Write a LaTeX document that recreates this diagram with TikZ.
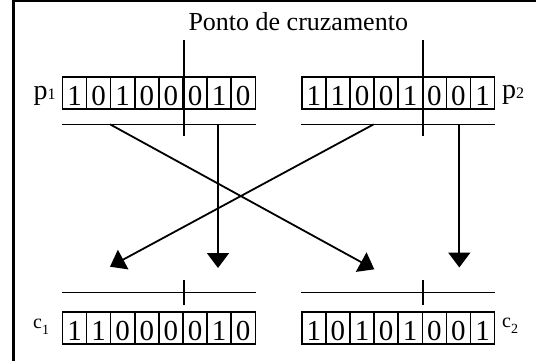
\documentclass[tikz,border=0pt]{standalone}
\usepackage{fontspec}
\setmainfont{Liberation Serif}
\usetikzlibrary{arrows.meta}
\begin{document}
\begin{tikzpicture}[x=1pt,y=-1pt,
  cell/.style={draw,line width=1.5pt,minimum width=24.1pt,minimum height=32pt,inner sep=0pt,
    text height=24.6pt,text depth=0pt,font=\fontsize{29}{29}\selectfont,anchor=north west},
  bar/.style={line width=1.6pt},
  lbl/.style={anchor=base west,inner sep=0pt},
  arr/.style={line width=1.8pt,-{Triangle[length=15pt,width=22pt]}}]
\useasboundingbox (0,0) rectangle (536,360);
% frame
\draw[line width=2.4pt] (13.5,362) -- (13.5,1) -- (538,1);
% chromosomes
\foreach \name/\x/\y/\bits in {p1/61.7/76/{1,0,1,0,0,0,1,0},p2/301/76/{1,1,0,0,1,0,0,1},c1/61.7/311/{1,1,0,0,0,0,1,0},c2/301/311/{1,0,1,0,1,0,0,1}}{
  \foreach \b [count=\i] in \bits {
    \node[cell] (\name-\i) at ({\x+(\i-1)*24.1},\y) {\b};
  }
}
% title
\node[lbl,font=\fontsize{26}{26}\selectfont] (title) at (188.3,30.7) {Ponto de cruzamento};
% labels
\node[lbl,font=\fontsize{28}{28}\selectfont] (lp1) at (33.5,99) {p{\fontsize{16}{16}\selectfont 1}};
\node[lbl,font=\fontsize{28}{28}\selectfont] (lp2) at (502,98.5) {p{\fontsize{16}{16}\selectfont 2}};
\node[lbl,font=\fontsize{20}{20}\selectfont] (lc1) at (33,328.3) {c\raisebox{-6pt}{\fontsize{14}{14}\selectfont 1}};
\node[lbl,font=\fontsize{20}{20}\selectfont] (lc2) at (502,327.7) {c\raisebox{-6pt}{\fontsize{14}{14}\selectfont 2}};
% crossover cut lines
\draw[bar] (p1-5.north east |- 0,40) -- (p1-5.north east |- 0,136);
\draw[bar] (p2-5.north east |- 0,40) -- (p2-5.north east |- 0,136);
\draw[bar] (c1-5.north east |- 0,280) -- (c1-5.north east |- 0,305);
\draw[bar] (c2-5.north east |- 0,280) -- (c2-5.north east |- 0,305);
% segment lines
\draw[bar] (p1-1.south west |- 0,124.3) -- (p1-8.south east |- 0,124.3);
\draw[bar] (p2-1.south west |- 0,124.3) -- (p2-8.south east |- 0,124.3);
\draw[bar] (c1-1.south west |- 0,292.3) -- (c1-8.south east |- 0,292.3);
\draw[bar] (c2-1.south west |- 0,292.3) -- (c2-8.south east |- 0,292.3);
% arrow endpoints
\coordinate (p1a) at (110,124.3);
\coordinate (p1b) at (218,124.3);
\coordinate (p2a) at (373.7,124.3);
\coordinate (p2b) at (459.3,124.3);
\coordinate (c1a) at (110,266.7);
\coordinate (c1b) at (218,268);
\coordinate (c2a) at (374.3,269.3);
\coordinate (c2b) at (459.3,267.5);
% arrows
\draw[arr] (p1a) -- (c2a);
\draw[arr] (p1b) -- (c1b);
\draw[arr] (p2a) -- (c1a);
\draw[arr] (p2b) -- (c2b);
\end{tikzpicture}
\end{document}
